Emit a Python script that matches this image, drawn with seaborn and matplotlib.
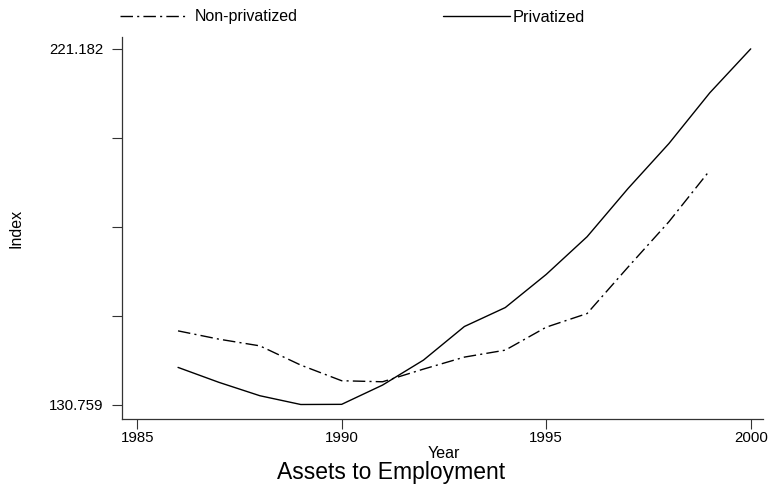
import numpy as np
import pandas as pd
import matplotlib
matplotlib.use("Agg")
import matplotlib.pyplot as plt
from matplotlib.lines import Line2D
import seaborn as sns

years = list(range(1986, 2001))
privatized = [140.19, 136.39, 132.99, 130.759, 130.80, 135.70, 142.05, 150.59,
              155.41, 163.83, 173.42, 185.67, 197.11, 210.02, 221.182]
non_privatized = [149.48, 147.37, 145.67, 140.78, 136.80, 136.54, 139.76, 142.81,
                  144.58, 150.42, 153.89, 165.69, 177.23, 190.29]
x_ticks = [1985, 1990, 1995, 2000]
y_min, y_max = 130.759, 221.182
series_names = ["Non-privatized", "Privatized"]

df = pd.concat([
    pd.DataFrame({"Year": years[:len(non_privatized)], "Index": non_privatized,
                  "Group": series_names[0]}),
    pd.DataFrame({"Year": years, "Index": privatized, "Group": series_names[1]}),
])

sns.set_style("ticks")
plt.rcParams["font.family"] = ["Liberation Sans", "DejaVu Sans"]
plt.rcParams["text.color"] = "black"

DASH_DOT = (9, 3, 1.5, 3)

fig = plt.figure(figsize=(7.69, 4.87), dpi=100)
ax = fig.add_axes([122 / 769, 1 - 418.5 / 487, (763 - 122) / 769, (418.5 - 37) / 487])

sns.lineplot(data=df, x="Year", y="Index", hue="Group", style="Group",
             palette={series_names[0]: "black", series_names[1]: "black"},
             dashes={series_names[0]: DASH_DOT, series_names[1]: ""},
             linewidth=1.0, ax=ax, legend=False)

ax.set_xlim(1984.63, 2000.30)
ax.set_ylim(127.2, 224.2)
ax.set_xticks(x_ticks)
ax.set_xticklabels([str(t) for t in x_ticks], fontsize=10.8)
yt = np.linspace(y_min, y_max, 5)
ax.set_yticks(yt)
ax.set_yticklabels([f"{y_min:.3f}", "", "", "", f"{y_max:.3f}"], fontsize=10.8)
ax.tick_params(axis="both", direction="out", length=7, width=0.8, colors="#333333",
               labelcolor="black")
ax.tick_params(axis="x", pad=2)
ax.tick_params(axis="y", pad=6.5)
for s in ["top", "right"]:
    ax.spines[s].set_visible(False)
for s in ["left", "bottom"]:
    ax.spines[s].set_color("#333333")
    ax.spines[s].set_linewidth(0.9)

ax.set_xlabel("")
ax.set_ylabel("")
fig.text(444 / 769, 1 - 453 / 487, "Year", ha="center", va="center", fontsize=11.5)
fig.text(16.5 / 769, 1 - 228 / 487, "Index", ha="center", va="center",
         rotation=90, fontsize=11.5)

# two separate single-entry legends along the top edge
leg1 = fig.legend([Line2D([], [], color="black", lw=1.0, dashes=DASH_DOT)],
                  [series_names[0]], loc="center left",
                  bbox_to_anchor=(120 / 769, 1 - 17 / 487), frameon=False,
                  fontsize=11.5, handlelength=4.1, handletextpad=0.55,
                  borderpad=0, borderaxespad=0)
leg2 = fig.legend([Line2D([], [], color="black", lw=1.0)],
                  [series_names[1]], loc="center left",
                  bbox_to_anchor=(443 / 769, 1 - 17 / 487), frameon=False,
                  fontsize=11.8, handlelength=4.1, handletextpad=0.15,
                  borderpad=0, borderaxespad=0)

fig.text(391 / 769, 1 - 472 / 487, "Assets to Employment", ha="center", va="center",
         fontsize=16.5)

fig.savefig("out.png", dpi=100)
